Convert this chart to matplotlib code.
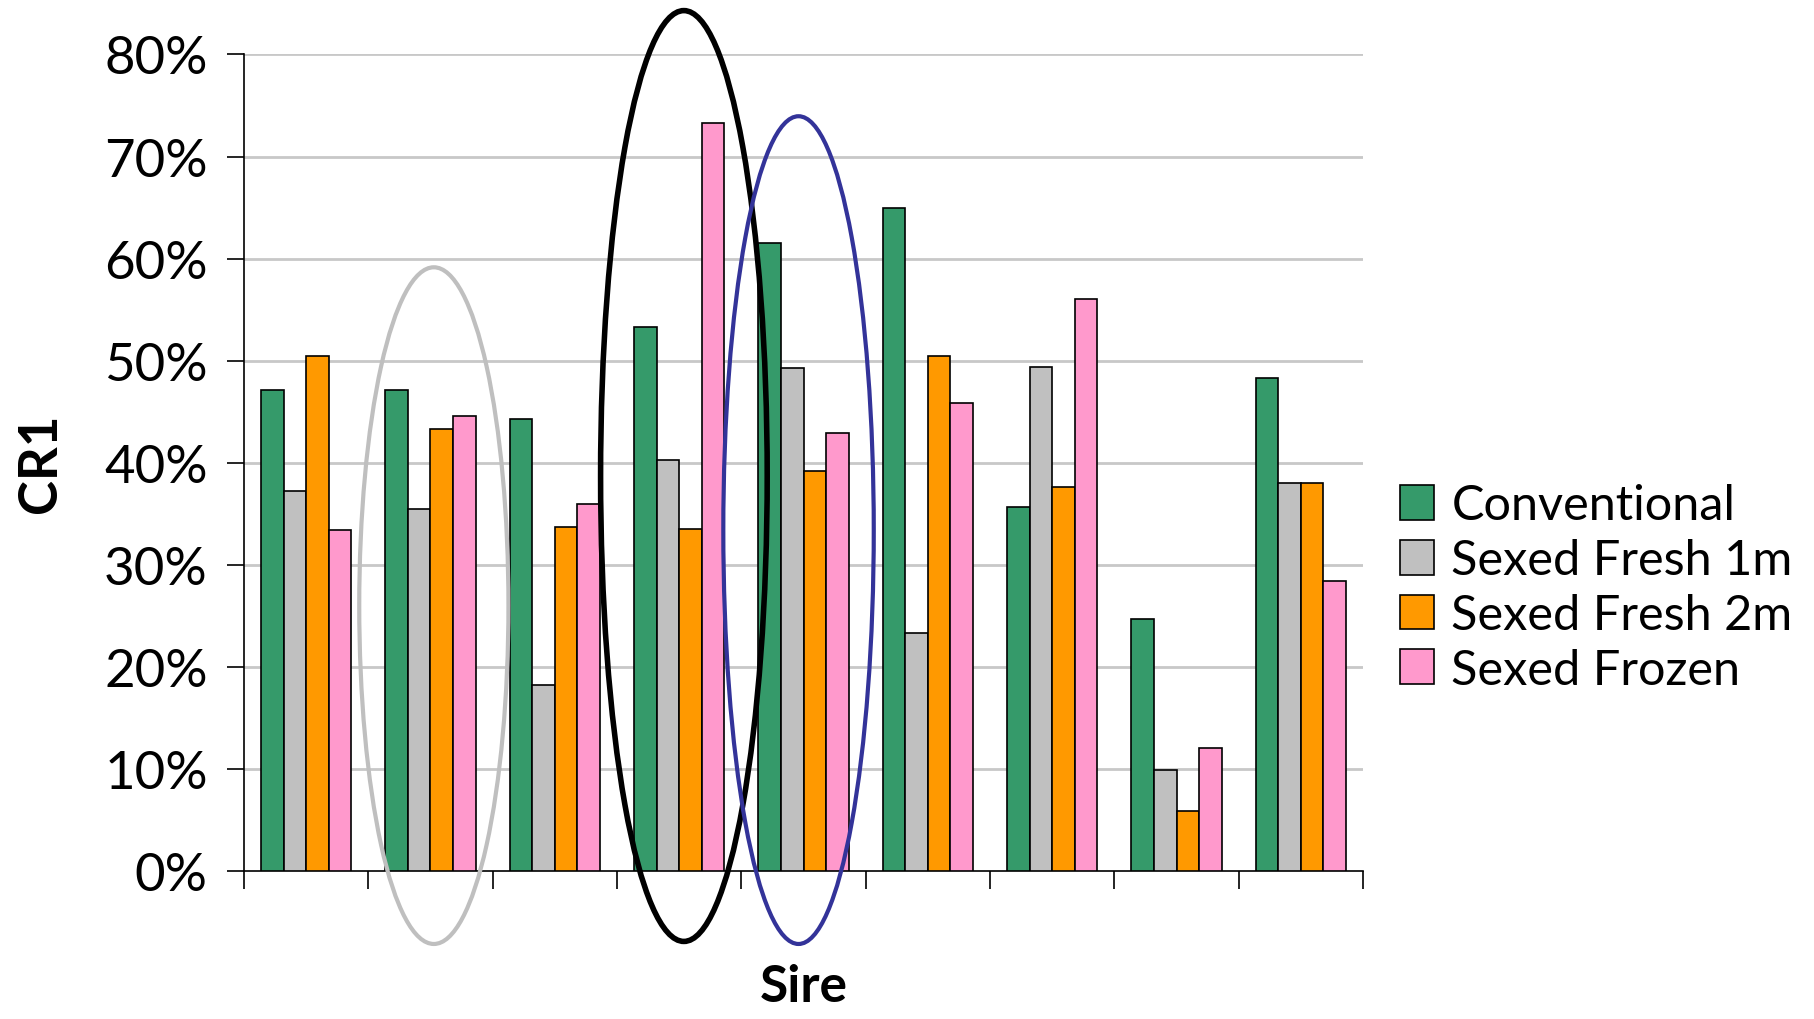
import matplotlib
matplotlib.use("Agg")
import matplotlib.pyplot as plt
from matplotlib.patches import Ellipse
from matplotlib.ticker import PercentFormatter
import numpy as np

plt.rcParams['font.family'] = ['Lato', 'DejaVu Sans']

sires = ["1", "2", "3", "4", "5", "6", "7", "8", "9"]
series_names = ["Conventional", "Sexed Fresh 1m", "Sexed Fresh 2m", "Sexed Frozen"]
conventional = [47.1, 47.1, 44.3, 53.3, 61.5, 65.0, 35.7, 24.7, 48.3]
sexed_fresh_1m = [37.2, 35.5, 18.2, 40.3, 49.3, 23.3, 49.4, 9.9, 38.0]
sexed_fresh_2m = [50.5, 43.3, 33.7, 33.5, 39.2, 50.5, 37.6, 5.9, 38.0]
sexed_frozen = [33.4, 44.6, 36.0, 73.3, 42.9, 45.9, 56.0, 12.1, 28.4]
yticks = [0, 10, 20, 30, 40, 50, 60, 70, 80]

colors = ["#359A6A", "#C0C0C0", "#FF9900", "#FF99CC"]

fig = plt.figure(figsize=(18.14, 10.20), dpi=100)
ax = fig.add_axes([0.1345, 0.1451, 0.7514 - 0.1345, 0.9456 - 0.1451])

x = np.arange(len(sires))
bw = 0.182
data = [conventional, sexed_fresh_1m, sexed_fresh_2m, sexed_frozen]
for k, (vals, c, name) in enumerate(zip(data, colors, series_names)):
    ax.bar(x + (k - 1.5) * bw, vals, width=bw, color=c, edgecolor="black",
           linewidth=1.2, label=name, zorder=3)

ax.set_ylim(0, 80)
ax.set_xlim(-0.5, len(sires) - 0.5)
ax.set_yticks(yticks)
ax.yaxis.set_major_formatter(PercentFormatter(decimals=0))
ax.set_xticks(np.arange(-0.5, len(sires)))
ax.set_xticklabels([])
ax.tick_params(axis='y', labelsize=38, length=12, width=1.2, pad=14)
ax.tick_params(axis='x', length=13, width=1.2, direction='out')
for yv in yticks[1:]:
    ax.axhline(yv, color="#C8C8C8", linewidth=2, zorder=1)
for s in ["top", "right"]:
    ax.spines[s].set_visible(False)
ax.spines["left"].set_linewidth(1.2)
ax.spines["bottom"].set_linewidth(1.2)

ax.set_ylabel("CR1", fontsize=38, fontweight="bold", labelpad=28)
ax.set_xlabel("Sire", fontsize=37, fontweight="bold", labelpad=50)

# annotation ellipses
ax.add_patch(Ellipse((1.027, 26.0), 1.20, 66.3, fill=False, edgecolor="#BFBFBF",
                     linewidth=3, clip_on=False, zorder=5))
ax.add_patch(Ellipse((3.038, 38.7), 1.34, 91.2, fill=False, edgecolor="black",
                     linewidth=4, clip_on=False, zorder=5))
ax.add_patch(Ellipse((3.96, 33.4), 1.21, 81.1, fill=False, edgecolor="#333399",
                     linewidth=3, clip_on=False, zorder=5))

fig.legend(loc="center left", bbox_to_anchor=(0.772, 0.423), frameon=False,
           fontsize=35, handlelength=0.7, handleheight=0.72, handletextpad=0.35,
           labelspacing=0.22, borderaxespad=0, borderpad=0)

fig.savefig("out.png", dpi=100)
